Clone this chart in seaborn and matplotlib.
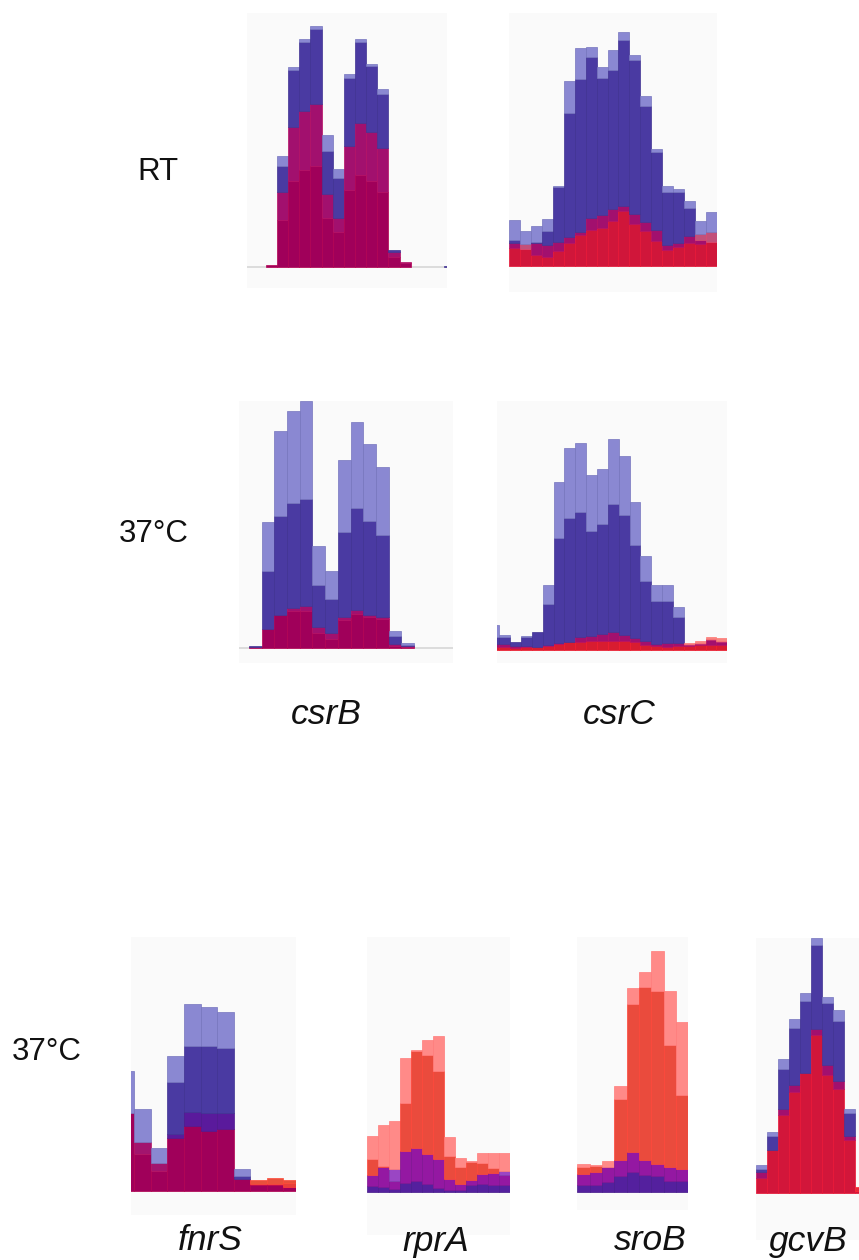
import numpy as np
import matplotlib
matplotlib.use("Agg")
import matplotlib.pyplot as plt
from matplotlib.colors import to_rgb
import seaborn as sns

# read heights per bin (px above the baseline in the source figure)
# b = blue sample (two replicates), r = red sample (two replicates)

# csrB, RT
csrB_rt_b_hi = [2, 111, 200, 228, 241, 132, 98, 193, 228, 203, 178, 17, 5, 0, 0, 0, 1]
csrB_rt_b_lo = [2, 101, 197, 225, 238, 116, 89, 189, 225, 201, 173, 17, 5, 0, 0, 0, 1]
csrB_rt_r_hi = [2, 75, 140, 156, 163, 73, 49, 121, 144, 135, 119, 15, 5, 0, 0, 0, 0]
csrB_rt_r_lo = [2, 47, 86, 97, 101, 49, 35, 77, 92, 86, 75, 10, 4, 0, 0, 0, 0]

# csrC, RT
csrC_rt_b_hi = [46, 35, 40, 47, 80, 185, 218, 219, 199, 216, 234, 211, 170, 117, 80, 77, 65, 45, 54]
csrC_rt_b_lo = [26, 17, 24, 35, 79, 153, 187, 209, 188, 196, 226, 206, 160, 114, 74, 74, 58, 26, 24]
csrC_rt_r_hi = [23, 22, 23, 21, 24, 29, 34, 48, 51, 57, 60, 52, 44, 36, 21, 23, 30, 32, 34]
csrC_rt_r_lo = [18, 17, 11, 9, 15, 23, 31, 36, 38, 45, 55, 42, 35, 25, 16, 19, 23, 22, 24]

# csrB, 37C
csrB_37_b_hi = [2, 126, 217, 237, 247, 102, 77, 188, 226, 204, 181, 17, 5]
csrB_37_b_lo = [2, 77, 132, 145, 149, 63, 49, 116, 140, 127, 113, 12, 3]
csrB_37_r_hi = [1, 19, 33, 40, 42, 21, 15, 31, 38, 33, 31, 4, 2]
csrB_37_r_lo = [1, 19, 33, 37, 37, 15, 9, 28, 34, 31, 29, 2, 1]

# csrC, 37C
csrC_37_b_hi = [25, 15, 8, 14, 18, 65, 168, 202, 207, 175, 181, 211, 194, 148, 94, 65, 65, 43, 6, 7, 11, 9]
csrC_37_b_lo = [13, 13, 8, 13, 18, 46, 112, 132, 138, 119, 126, 146, 135, 105, 69, 49, 49, 33, 5, 6, 10, 8]
csrC_37_r_hi = [6, 6, 4, 4, 3, 5, 7, 8, 13, 14, 16, 18, 15, 12, 9, 6, 7, 7, 7, 9, 13, 12]
csrC_37_r_lo = [3, 3, 2, 3, 3, 4, 6, 8, 8, 9, 9, 9, 9, 8, 5, 4, 3, 4, 4, 5, 5, 5]

# fnrS, 37C
fnrS_b_hi = [120, 82, 43, 135, 187, 184, 179, 22, 7, 7, 4]
fnrS_b_lo = [78, 37, 20, 109, 145, 145, 143, 15, 6, 6, 4]
fnrS_r_hi = [78, 49, 28, 57, 79, 78, 78, 12, 11, 13, 11]
fnrS_r_lo = [78, 37, 20, 53, 65, 60, 62, 12, 7, 7, 8]

# rprA, 37C
rprA_b_hi = [17, 25, 23, 41, 44, 38, 33, 13, 8, 12, 18, 19, 21]
rprA_b_lo = [6, 5, 3, 9, 11, 8, 4, 2, 2, 7, 8, 7, 7]
rprA_r_hi = [56, 67, 71, 134, 142, 152, 156, 55, 34, 31, 39, 39, 39]
rprA_r_lo = [33, 26, 11, 89, 141, 137, 121, 36, 25, 30, 29, 24, 17]

# sroB, 37C
sroB_b_hi = [18, 20, 25, 32, 40, 32, 28, 25, 23]
sroB_b_lo = [7, 7, 10, 16, 20, 17, 16, 11, 11]
sroB_r_hi = [28, 27, 31, 106, 204, 220, 241, 201, 170]
sroB_r_lo = [25, 26, 25, 93, 188, 205, 201, 147, 97]

# gcvB, 37C
gcvB_b_hi = [28, 61, 134, 174, 200, 255, 196, 183, 84, 2]
gcvB_b_lo = [24, 57, 124, 165, 192, 248, 190, 172, 80, 2]
gcvB_r_hi = [21, 43, 84, 108, 120, 164, 128, 112, 57, 6]
gcvB_r_lo = [15, 43, 78, 101, 120, 158, 118, 104, 53, 6]

row_labels = ["RT", "37°C", "37°C"]
gene_labels = ["csrB", "csrC", "fnrS", "rprA", "sroB", "gcvB"]

# colours keyed by (blue layers, red layers) covering a point
base_pal = {(1, 0): "#8a88d2", (2, 0): "#4a3aa2", (2, 1): "#a2106e", (2, 2): "#a0005a",
            (1, 1): "#b0307a", (1, 2): "#b00a50", (0, 1): "#f47a78", (0, 2): "#e8403a"}
csrC_rt_pal = {**base_pal, (2, 2): "#d0163a", (1, 1): "#c2507a", (1, 2): "#d8203c"}
csrC_37_pal = {**base_pal, (2, 2): "#d81c30", (0, 1): "#f88480", (0, 2): "#e84a3c",
               (1, 2): "#d81c30"}
fnrS_pal = {**base_pal, (2, 1): "#5a1a9c", (1, 1): "#a2146e", (0, 1): "#e8503c"}
blue_top_pal = {**base_pal, (2, 2): "#54209e", (2, 1): "#54209e", (1, 2): "#9418a2",
                (1, 1): "#9a46c4", (0, 2): "#ea4b3d", (0, 1): "#ff8a88"}
gcvB_pal = {**base_pal, (2, 2): "#d2163a", (0, 2): "#e62a3a"}

W, H = 859, 1260

# panel: data, palette, box in px (left, right, top, bottom), baseline px, xlim in bins
panels = [
    ((csrB_rt_b_hi, csrB_rt_b_lo, csrB_rt_r_hi, csrB_rt_r_lo), base_pal, (246.7, 447.3, 13, 288), 266.7, (-2.23, 15.79)),
    ((csrC_rt_b_hi, csrC_rt_b_lo, csrC_rt_r_hi, csrC_rt_r_lo), csrC_rt_pal, (509.3, 716.7, 13, 291.7), 266, (-0.5, 18.5)),
    ((csrB_37_b_hi, csrB_37_b_lo, csrB_37_r_hi, csrB_37_r_lo), base_pal, (239.3, 452.7, 401, 662.7), 648.3, (-1.26, 15.54)),
    ((csrC_37_b_hi, csrC_37_b_lo, csrC_37_r_hi, csrC_37_r_lo), csrC_37_pal, (497.3, 727.3, 401, 663), 650, (0.32, 21.5)),
    ((fnrS_b_hi, fnrS_b_lo, fnrS_r_hi, fnrS_r_lo), fnrS_pal, (130.7, 296, 937.3, 1215), 1191, (0.28, 10.26)),
    ((rprA_b_hi, rprA_b_lo, rprA_r_hi, rprA_r_lo), blue_top_pal, (367.3, 510, 937.3, 1235), 1191.7, (-0.5, 12.5)),
    ((sroB_b_hi, sroB_b_lo, sroB_r_hi, sroB_r_lo), blue_top_pal, (577.3, 688.3, 937.3, 1210), 1192.3, (-0.5, 8.5)),
    ((gcvB_b_hi, gcvB_b_lo, gcvB_r_hi, gcvB_r_lo), gcvB_pal, (755.7, 859, 937.7, 1240), 1192.7, (-0.5, 8.86)),
]


def edge_of(c):
    # thin bar separators: a touch darker for blues, a touch brighter for reds
    rr, gg, bb = to_rgb(c)
    if rr > bb:
        return (min(1, rr * 1.12), gg * 0.9, bb * 0.9)
    return (rr * 0.85, gg * 0.85, bb * 0.9)


sns.set_theme(style="white")
plt.rcParams["font.family"] = ["Liberation Sans", "DejaVu Sans"]

fig = plt.figure(figsize=(W / 100, H / 100), dpi=100)
fig.patch.set_facecolor("white")

for (b_hi, b_lo, r_hi, r_lo), pal, (l, r, t, b), base, xl in panels:
    ax = fig.add_axes([l / W, 1 - b / H, (r - l) / W, (b - t) / H])
    ax.set_facecolor("#fafafa")
    ax.axhline(0, color="#d6d6d6", lw=1.2, zorder=1)
    for i in range(len(b_hi)):
        vals = [b_hi[i], b_lo[i], r_hi[i], r_lo[i]]
        cuts = sorted(set([0] + vals))
        for lo, hi in zip(cuts[:-1], cuts[1:]):
            mid = (lo + hi) / 2
            nb = int(mid < b_hi[i]) + int(mid < b_lo[i])
            nr = int(mid < r_hi[i]) + int(mid < r_lo[i])
            if nb + nr == 0:
                continue
            col = pal[(nb, nr)]
            ax.bar(i, hi - lo, bottom=lo, width=1.0, color=col,
                   edgecolor=edge_of(col), lw=0.5, zorder=2)
    ax.set_xlim(*xl)
    ax.set_ylim(-(b - base), base - t)
    ax.set_xticks([])
    ax.set_yticks([])
    sns.despine(ax=ax, left=True, bottom=True)

# row labels
for txt, (x, y) in zip(row_labels, [(158, 172), (154, 534), (47, 1052)]):
    fig.text(x / W, 1 - y / H, txt, ha="center", va="center", fontsize=22.5, color="#111111")

# gene names
for txt, (x, y) in zip(gene_labels, [(326, 714), (619, 714), (210, 1241), (436, 1241), (650, 1241), (808, 1241)]):
    fig.text(x / W, 1 - y / H, txt, ha="center", va="center", fontsize=25.5, style="italic", color="#111111")

fig.savefig("out.png", dpi=100, facecolor="white")
